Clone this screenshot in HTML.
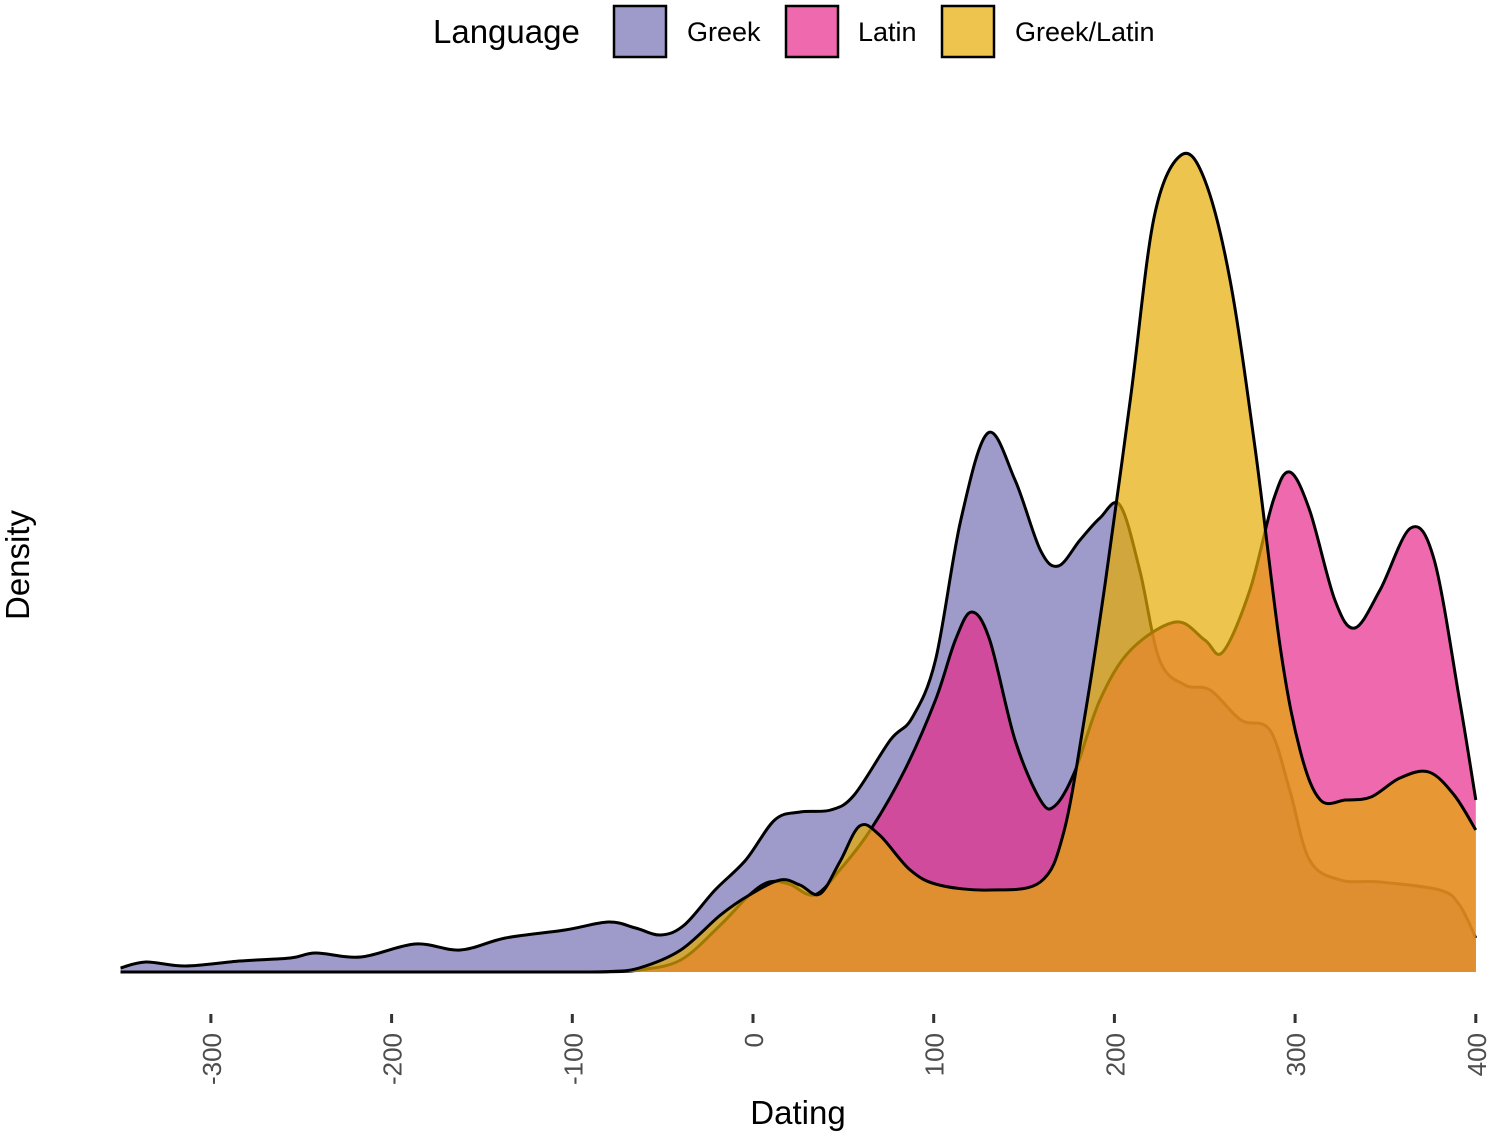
<!DOCTYPE html>
<html><head><meta charset="utf-8"><style>
body{margin:0;background:#fff}
svg text{font-family:"Liberation Sans",sans-serif}
</style></head><body>
<svg id="chart" width="1500" height="1134" viewBox="0 0 1500 1134" xmlns="http://www.w3.org/2000/svg">
<g id="areas"></g>
<g id="xaxis"></g>
<text x="798" y="1124" font-size="33" text-anchor="middle">Dating</text>
<text transform="translate(29,565) rotate(-90)" font-size="33" text-anchor="middle">Density</text>
<g>
<text x="433" y="43" font-size="33">Language</text>
<rect x="614" y="6" width="52" height="51" fill="#9e9bca" stroke="#000" stroke-width="2.5"/>
<text x="687" y="41" font-size="27">Greek</text>
<rect x="786" y="6" width="52" height="51" fill="#ee69ad" stroke="#000" stroke-width="2.5"/>
<text x="858" y="41" font-size="27">Latin</text>
<rect x="942" y="6" width="52" height="51" fill="#eec44e" stroke="#000" stroke-width="2.5"/>
<text x="1015" y="41" font-size="27">Greek/Latin</text>
</g>
</svg>
<script>
const greekX=[-350,-336,-314,-284,-256,-242,-217,-187,-162,-137,-104,-80,-65,-51,-38,-21,-4,12,26,43,56,76,88,101,115,130,145,159,169,181,192,203,214,225,239,253,270,286,297,308,325,347,380,391,400];
const greekY=[0.04,0.10,0.06,0.11,0.14,0.19,0.15,0.28,0.22,0.34,0.42,0.50,0.44,0.37,0.47,0.82,1.12,1.52,1.60,1.62,1.77,2.32,2.54,3.12,4.52,5.39,4.92,4.22,4.06,4.32,4.54,4.67,4.02,3.12,2.87,2.82,2.52,2.42,1.82,1.12,0.92,0.90,0.82,0.67,0.34];
const latinX=[-350,-250,-150,-100,-80,-63,-40,-18,-2,9,20,34,48,65,84,101,112,121,131,145,159,167,178,192,209,234,250,260,275,288,297,308,322,333,347,364,377,391,400];
const latinY=[0,0,0,0,0.003,0.02,0.12,0.47,0.77,0.90,0.88,0.77,1.02,1.42,2.02,2.72,3.32,3.60,3.32,2.32,1.72,1.66,2.0,2.72,3.22,3.50,3.32,3.20,3.82,4.72,5.00,4.62,3.72,3.44,3.82,4.44,4.12,2.72,1.72];
const glX=[-350,-250,-150,-100,-80,-63,-40,-18,-2,15,26,37,48,59,70,87,103,131,159,172,184,195,209,222,237,250,264,278,292,303,314,328,342,358,374,388,400];
const glY=[0,0,0,0,0.004,0.04,0.22,0.57,0.77,0.92,0.87,0.78,1.10,1.46,1.37,1.02,0.87,0.82,0.90,1.40,2.60,3.90,5.75,7.55,8.17,7.92,6.92,5.22,3.22,2.20,1.72,1.72,1.75,1.94,2.00,1.77,1.42];
const xTicks=[-300,-200,-100,0,100,200,300,400];
const xs=v=>753+v*1.807;
const ys=v=>972-v*100;
const NS="http://www.w3.org/2000/svg";
function pathFor(X,Y){
  const p=X.map((x,i)=>[xs(x),ys(Y[i])]);
  let d="M"+p[0][0]+","+ys(0)+" L"+p[0][0]+","+p[0][1];
  for(let i=0;i<p.length-1;i++){
    const p0=p[Math.max(0,i-1)],p1=p[i],p2=p[i+1],p3=p[Math.min(p.length-1,i+2)];
    const c1=[p1[0]+(p2[0]-p0[0])/6,Math.min(ys(0),p1[1]+(p2[1]-p0[1])/6)];
    const c2=[p2[0]-(p3[0]-p1[0])/6,Math.min(ys(0),p2[1]-(p3[1]-p1[1])/6)];
    d+=" C"+c1+" "+c2+" "+p2;
  }
  return {area:d+" L"+p[p.length-1][0]+","+ys(0)+" Z",line:d.replace(/^M[^L]*L/,"M")};
}
const areas=document.getElementById("areas");
[[greekX,greekY,"#7570b3","greek"],[latinX,latinY,"#e7298a","latin"],[glX,glY,"#e6ab02","greek-latin"]].forEach(s=>{
  const r=pathFor(s[0],s[1]);
  const a=document.createElementNS(NS,"path");
  a.setAttribute("d",r.area);a.setAttribute("fill",s[2]);a.setAttribute("fill-opacity","0.7");
  
  
  areas.appendChild(a);
  const l=document.createElementNS(NS,"path");
  l.setAttribute("d",r.line);l.setAttribute("fill","none");l.setAttribute("stroke","#000");l.setAttribute("stroke-width","3");
  
  
  areas.appendChild(l);
});
const ax=document.getElementById("xaxis");
xTicks.forEach(t=>{
  const x=xs(t);
  const tk=document.createElementNS(NS,"line");
  tk.setAttribute("x1",x);tk.setAttribute("x2",x);tk.setAttribute("y1",1014);tk.setAttribute("y2",1023);
  tk.setAttribute("stroke","#333");tk.setAttribute("stroke-width","3");
  
  
  ax.appendChild(tk);
  const tx=document.createElementNS(NS,"text");
  tx.setAttribute("transform","translate("+(x+10)+",1033) rotate(-90)");
  tx.setAttribute("text-anchor","end");tx.setAttribute("font-size","26");tx.setAttribute("fill","#4d4d4d");
  tx.textContent=t;
  
  
  ax.appendChild(tx);
});
</script>
</body></html>
